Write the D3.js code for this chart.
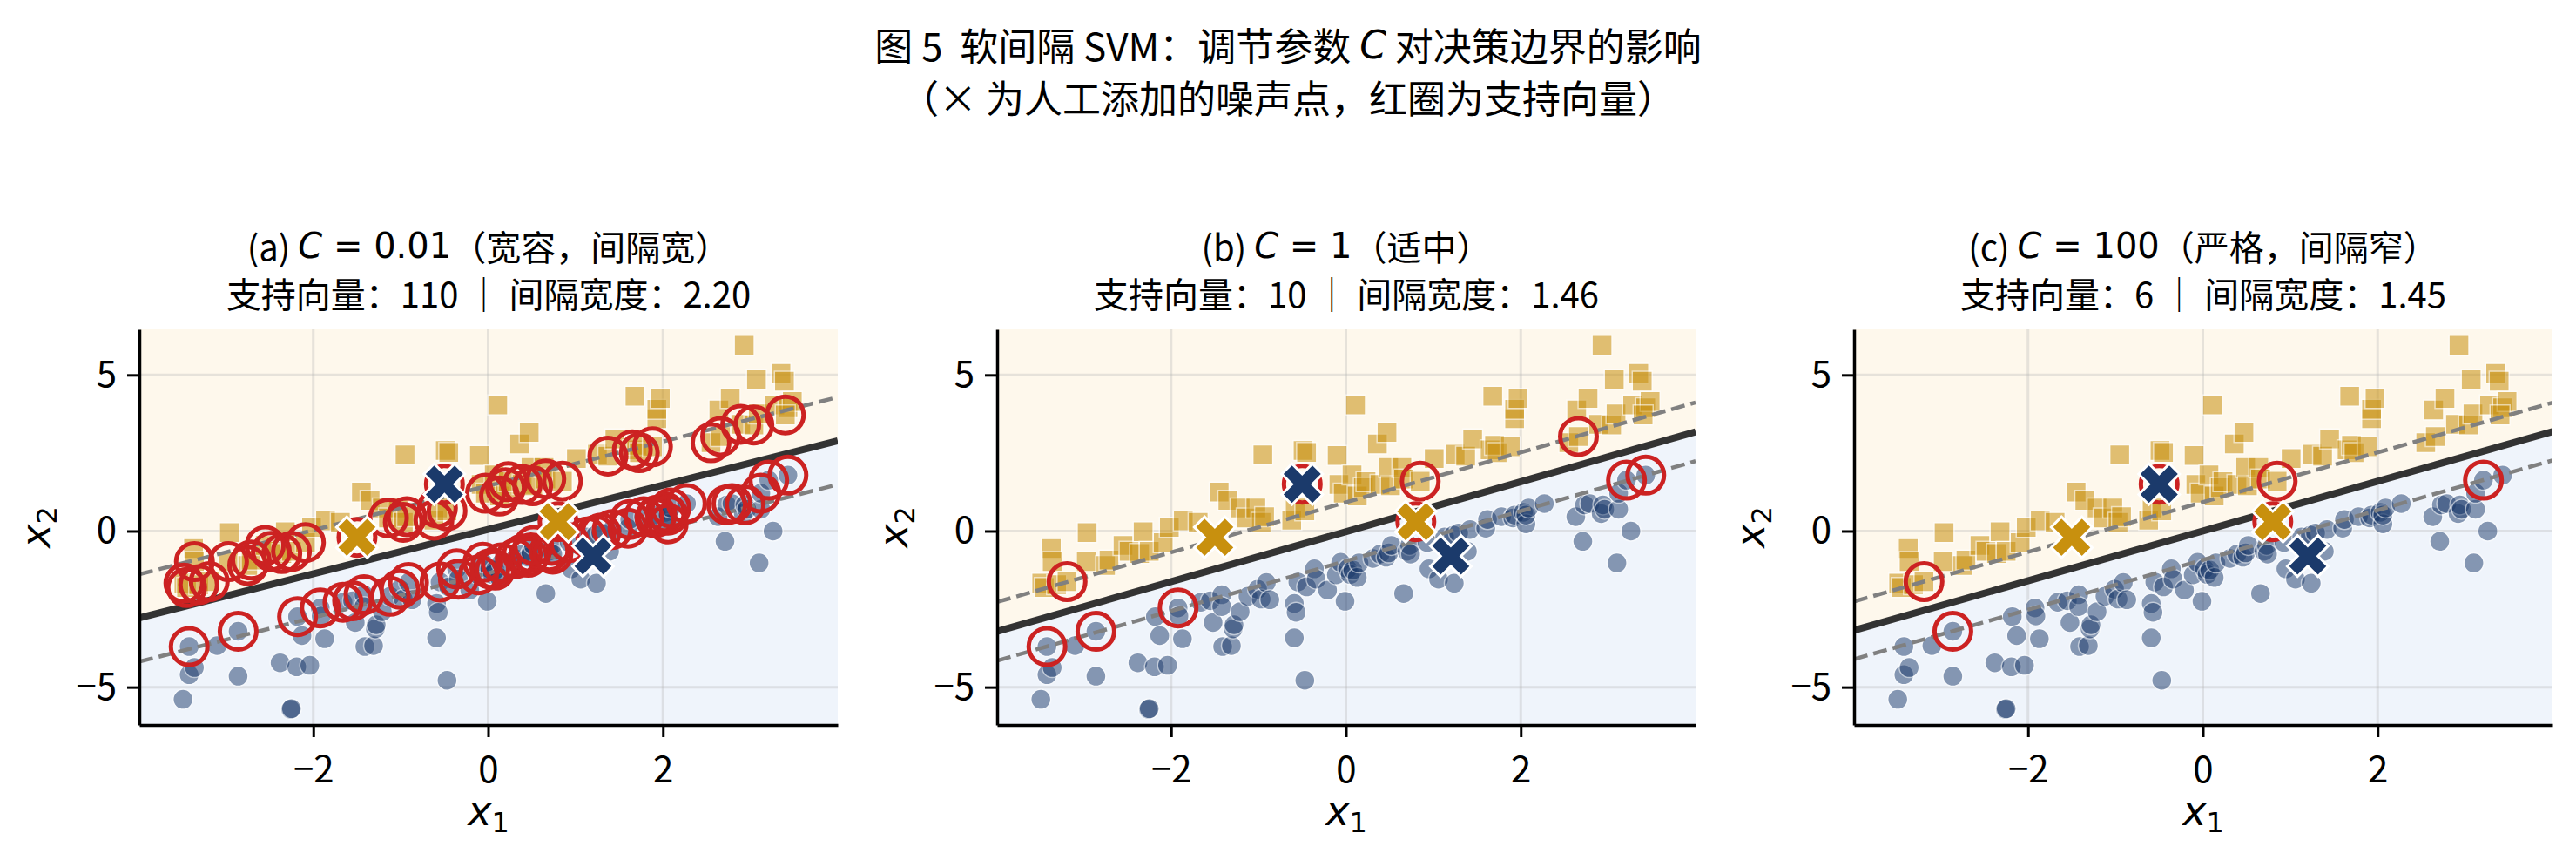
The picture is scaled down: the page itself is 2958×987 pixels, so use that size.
<!DOCTYPE html>
<html>
<head>
<meta charset="utf-8">
<script src="https://cdn.jsdelivr.net/npm/d3@7"></script>
<style>
  body { margin: 0; background: #fff; }
  text { font-family: "Noto Sans CJK SC", sans-serif; }
</style>
</head>
<body>
<svg id="chart"></svg>
<script>
// ---- data ----
const panelLabels = ["(a)", "(b)", "(c)"]
const cValues = ["0.01", "1", "100"]
const cNotes = ["（宽容，间隔宽）", "（适中）", "（严格，间隔窄）"]
const svCounts = [110, 10, 6]
const marginWidths = ["2.20", "1.46", "1.45"]

// decision boundary  x2 = slope * x1 + intercept, margins at +/- offset (vertical)
const boundarySlope = [0.71, 0.80, 0.797]
const boundaryIntercept = [0.05, -0.02, 0.0]
const marginOffset = [1.40, 0.94, 0.925]

const xTicks = [-2, 0, 2]
const yTicks = [-5, 0, 5]

// class -1 (blue circles)
const bluePoints = [
  [-3.49, -5.39], [-3.42, -4.60], [-3.36, -4.37], [-3.42, -3.70], [-3.10, -3.67],
  [-2.86, -3.21], [-2.86, -4.65], [-2.38, -4.22], [-2.19, -4.35], [-2.04, -4.30],
  [-2.26, -5.71], [-2.25, -5.69], [-2.18, -2.74], [-2.13, -3.35], [-1.92, -2.46],
  [-1.91, -2.72], [-1.87, -3.45], [-1.66, -2.28], [-1.55, -2.23], [-1.52, -2.93],
  [-1.42, -2.04], [-1.42, -2.42], [-1.41, -3.70], [-1.31, -3.67], [-1.29, -3.13],
  [-1.28, -3.00], [-1.21, -2.58], [-1.12, -2.09], [-1.01, -1.86], [-0.97, -2.18],
  [-0.91, -1.65], [-0.87, -2.20], [-0.59, -2.32], [-0.57, -2.60], [-0.59, -3.42],
  [-0.47, -4.78], [-0.55, -1.63], [-0.45, -1.79], [-0.36, -1.21], [-0.34, -1.54],
  [-0.21, -1.89], [-0.11, -1.40], [-0.06, -1.00], [-0.01, -2.25], [0.02, -1.21],
  [0.05, -1.39], [0.08, -1.25], [0.13, -1.49], [0.15, -1.02], [0.31, -0.88],
  [0.39, -0.74], [0.46, -0.84], [0.49, -0.70], [0.52, -0.46], [0.66, -2.00],
  [0.70, -0.65], [0.73, -0.46], [0.74, -0.74], [0.93, -0.37], [0.95, -1.21],
  [1.06, -1.54], [1.13, -0.19], [1.23, -0.13], [1.24, -1.67], [1.29, -0.06],
  [1.39, -0.65], [1.42, 0.05], [1.60, 0.09], [1.62, 0.37], [1.78, 0.46],
  [1.91, 0.42], [1.93, 0.51], [2.03, 0.60], [2.06, 0.23], [2.06, 0.51],
  [2.09, 0.74], [2.27, 0.88], [2.63, 0.46], [2.71, -0.33], [2.73, 0.84],
  [2.79, 0.88], [2.92, 0.56], [2.94, 0.84], [2.96, 0.70], [3.10, -1.02],
  [3.12, 0.70], [3.12, 1.21], [3.21, 1.63], [3.26, 0.00], [3.43, 1.79]
]

// class +1 (orange squares)
const orangePoints = [
  [-3.48, -1.67], [-3.45, -1.81], [-3.37, -0.56], [-3.36, -0.98], [-3.31, -1.72],
  [-3.19, -1.62], [-2.97, -0.98], [-2.96, -0.05], [-2.75, -1.10], [-2.71, -0.93],
  [-2.55, -0.46], [-2.48, -0.65], [-2.36, -0.72], [-2.32, -0.02], [-2.25, -0.65],
  [-2.09, -0.37], [-2.02, 0.12], [-1.86, 0.33], [-1.69, 0.28], [-1.45, 1.25],
  [-1.35, 0.98], [-1.21, 0.74], [-1.14, 0.42], [-1.03, 0.74], [-0.97, 0.28],
  [-0.95, 2.44], [-0.93, 0.46], [-0.62, 0.35], [-0.58, 0.74], [-0.49, 2.58],
  [-0.45, 2.52], [-0.47, 0.65], [-0.10, 2.42], [-0.08, 1.49], [-0.03, 1.21],
  [0.07, 1.80], [0.11, 4.04], [0.13, 1.12], [0.20, 1.39], [0.23, 1.58],
  [0.36, 2.79], [0.39, 1.49], [0.47, 3.16], [0.49, 2.04], [0.51, 1.45],
  [0.64, 2.04], [0.66, 1.67], [0.85, 1.60], [1.01, 2.32], [1.25, 2.46],
  [1.37, 2.40], [1.45, 2.95], [1.65, 2.60], [1.68, 4.32], [1.70, 2.75],
  [1.73, 2.51], [1.88, 2.70], [1.93, 3.60], [1.93, 3.90], [1.97, 4.25],
  [2.55, 2.83], [2.64, 3.88], [2.66, 3.03], [2.77, 4.25], [2.89, 3.42],
  [2.93, 5.95], [3.04, 3.40], [3.07, 4.85], [3.09, 3.75], [3.28, 4.04],
  [3.35, 5.05], [3.39, 4.80], [3.43, 3.95], [3.48, 4.15], [3.40, 3.72]
]

// manually added noise points (drawn as X)
const noiseBlue = [[-0.5, 1.5], [1.2, -0.8]]
const noiseOrange = [[-1.5, -0.2], [0.8, 0.3]]

// support vectors circled in (b) and (c); (a) = every point inside the margin
const svB = [[-3.19, -1.62], [-3.42, -3.70], [-2.86, -3.21], [-1.92, -2.46], [-0.5, 1.5],
             [0.85, 1.60], [0.8, 0.3], [2.66, 3.03], [3.21, 1.63], [3.43, 1.79]]
const svC = [[-3.19, -1.62], [-2.86, -3.21], [-0.5, 1.5], [0.85, 1.60], [0.8, 0.3], [3.21, 1.63]]

const xDomain = [-3.99, 4.0]
const yDomain = [-6.21, 6.46]

// ---- layout ----
const W = 2958, H = 987
const panelLeft = [160, 1145, 2129]
const panelTop = 378
const plotW = 802, plotH = 454

const blueColor = "#1b3a6b"
const orangeColor = "#c8900e"
const svColor = "#cc2222"

let svg = d3.select("#chart").attr("width", W).attr("height", H)
svg.append("rect").attr("width", W).attr("height", H).attr("fill", "#fff")

// figure title (two lines)
let title = svg.append("text")
  .attr("x", W / 2).attr("y", 51)
  .attr("text-anchor", "middle").attr("dominant-baseline", "central")
  .style("font-size", "44px")
title.append("tspan").text("图 5\u00a0\u00a0软间隔 SVM：调节参数 ")
title.append("tspan").style("font-family", "DejaVu Sans").style("font-style", "italic").text("C")
title.append("tspan").text(" 对决策边界的影响")
svg.append("text")
  .attr("x", W / 2).attr("y", 111)
  .attr("text-anchor", "middle").attr("dominant-baseline", "central")
  .style("font-size", "44px")
  .text("（× 为人工添加的噪声点，红圈为支持向量）")

let svLists = [null, svB, svC]

panelLabels.forEach(function (label, i) {
  let g = svg.append("g").attr("transform", `translate(${panelLeft[i]},${panelTop})`)

  let x = d3.scaleLinear().domain(xDomain).range([0, plotW])
  let y = d3.scaleLinear().domain(yDomain).range([plotH, 0])

  let s = boundarySlope[i], b = boundaryIntercept[i], off = marginOffset[i]
  let lineAt = function (x1, shift) { return s * x1 + b + shift }

  // background regions
  let yl = lineAt(xDomain[0], 0), yr = lineAt(xDomain[1], 0)
  let poly = d3.line().x(d => x(d[0])).y(d => y(d[1]))
  g.append("path")
    .attr("d", poly([[xDomain[0], yDomain[1]], [xDomain[1], yDomain[1]], [xDomain[1], yr], [xDomain[0], yl]]) + "Z")
    .attr("fill", "#fef8ec")
  g.append("path")
    .attr("d", poly([[xDomain[0], yl], [xDomain[1], yr], [xDomain[1], yDomain[0]], [xDomain[0], yDomain[0]]]) + "Z")
    .attr("fill", "#eff4fb")

  // grid
  g.selectAll(".gx").data(xTicks).enter().append("line")
    .attr("x1", d => x(d)).attr("x2", d => x(d)).attr("y1", 0).attr("y2", plotH)
    .attr("stroke", "#b0b0b0").attr("stroke-opacity", 0.3).attr("stroke-width", 3)
  g.selectAll(".gy").data(yTicks).enter().append("line")
    .attr("y1", d => y(d)).attr("y2", d => y(d)).attr("x1", 0).attr("x2", plotW)
    .attr("stroke", "#b0b0b0").attr("stroke-opacity", 0.3).attr("stroke-width", 3)

  // clip for lines
  let clipId = "clip" + i
  g.append("clipPath").attr("id", clipId).append("rect").attr("width", plotW).attr("height", plotH)
  let inner = g.append("g").attr("clip-path", `url(#${clipId})`)

  // data points
  inner.selectAll(".blue").data(bluePoints).enter().append("circle")
    .attr("cx", d => x(d[0])).attr("cy", d => y(d[1])).attr("r", 11.5)
    .attr("fill", blueColor).attr("stroke", "#fff").attr("stroke-width", 1.5)
    .attr("opacity", 0.5)

  inner.selectAll(".orange").data(orangePoints).enter().append("path")
    .attr("d", d3.symbol(d3.symbolSquare).size(23 * 23))
    .attr("transform", d => `translate(${x(d[0])},${y(d[1])})`)
    .attr("fill", orangeColor).attr("stroke", "#fff").attr("stroke-width", 1.5)
    .attr("opacity", 0.55)

  // margins and boundary
  let seg = function (shift) {
    return [[xDomain[0], lineAt(xDomain[0], shift)], [xDomain[1], lineAt(xDomain[1], shift)]]
  }
  ;[off, -off].forEach(function (sh) {
    inner.append("path").attr("d", poly(seg(sh)))
      .attr("stroke", "#808080").attr("stroke-width", 4.5)
      .attr("stroke-dasharray", "16,7").attr("fill", "none")
  })
  inner.append("path").attr("d", poly(seg(0)))
    .attr("stroke", "#333333").attr("stroke-width", 8).attr("fill", "none")

  // support vectors
  let sv = svLists[i]
  if (!sv) {
    let inside = function (p, lab) { return lab * (p[1] - lineAt(p[0], 0)) / off <= 1.001 }
    sv = bluePoints.concat(noiseBlue).filter(p => inside(p, -1))
      .concat(orangePoints.concat(noiseOrange).filter(p => inside(p, 1)))
  }
  inner.selectAll(".sv").data(sv).enter().append("circle")
    .attr("cx", d => x(d[0])).attr("cy", d => y(d[1])).attr("r", 21)
    .attr("fill", "none").attr("stroke", svColor).attr("stroke-width", 5)

  // noise points
  let xSym = d3.symbol(d3.symbolCross).size(1378)
  inner.selectAll(".nb").data(noiseBlue).enter().append("path")
    .attr("d", xSym)
    .attr("transform", d => `translate(${x(d[0])},${y(d[1])}) rotate(45)`)
    .attr("fill", blueColor).attr("stroke", "#fff").attr("stroke-width", 3)
  inner.selectAll(".no").data(noiseOrange).enter().append("path")
    .attr("d", xSym)
    .attr("transform", d => `translate(${x(d[0])},${y(d[1])}) rotate(45)`)
    .attr("fill", orangeColor).attr("stroke", "#fff").attr("stroke-width", 3)

  // axes
  let xAxis = g.append("g").attr("transform", `translate(0,${plotH})`)
    .call(d3.axisBottom(x).tickValues(xTicks).tickSize(14).tickPadding(12).tickSizeOuter(0))
  let yAxis = g.append("g")
    .call(d3.axisLeft(y).tickValues(yTicks).tickSize(14).tickPadding(12).tickSizeOuter(0))
  ;[xAxis, yAxis].forEach(function (ax) {
    ax.select(".domain").attr("stroke", "#000").attr("stroke-width", 3.5)
    ax.selectAll(".tick line").attr("stroke", "#000").attr("stroke-width", 3)
    ax.selectAll(".tick text").attr("fill", "#000")
      .style("font-family", "'Noto Sans CJK SC', sans-serif").style("font-size", "42px")
  })
  xAxis.selectAll(".tick text").attr("dy", "0.95em")

  // axis labels
  let xl = g.append("text").attr("x", plotW / 2).attr("y", plotH + 115)
    .attr("text-anchor", "middle").style("font-family", "DejaVu Sans").style("font-size", "46px")
  xl.append("tspan").style("font-style", "italic").text("x")
  xl.append("tspan").attr("dy", 8).style("font-size", "32px").text("1")

  let ylab = g.append("text").attr("transform", `translate(-103,${plotH / 2}) rotate(-90)`)
    .attr("text-anchor", "middle").style("font-family", "DejaVu Sans").style("font-size", "46px")
  ylab.append("tspan").style("font-style", "italic").text("x")
  ylab.append("tspan").attr("dy", 8).style("font-size", "32px").text("2")

  // panel titles
  let t1 = g.append("text").attr("x", plotW / 2).attr("y", 282 - panelTop)
    .attr("text-anchor", "middle").attr("dominant-baseline", "central").style("font-size", "40px")
  t1.append("tspan").text(label + " ")
  t1.append("tspan").style("font-family", "DejaVu Sans").style("font-style", "italic").text("C")
  t1.append("tspan").style("font-family", "DejaVu Sans").text(" = " + cValues[i])
  t1.append("tspan").text(cNotes[i])

  g.append("text").attr("x", plotW / 2).attr("y", 336 - panelTop)
    .attr("text-anchor", "middle").attr("dominant-baseline", "central").style("font-size", "40px")
    .text("支持向量：" + svCounts[i] + " ｜ 间隔宽度：" + marginWidths[i])
})
</script>
</body>
</html>
